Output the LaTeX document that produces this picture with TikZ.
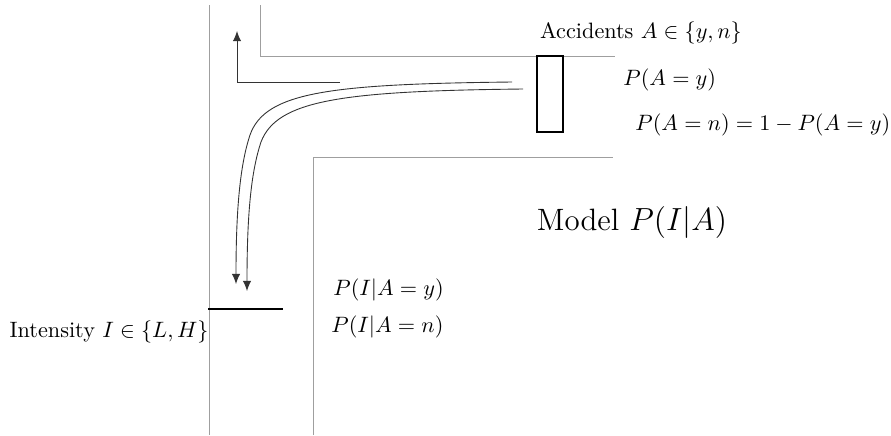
\documentclass[tikz,border=0pt]{standalone}
\usepackage{amsmath}
\usetikzlibrary{arrows.meta}

\begin{document}
\begin{tikzpicture}[x=0.45pt, y=-0.45pt]
\tikzset{
    road/.style={gray!75, line width=0.45pt},
    sensor/.style={black, line width=1.3pt},
    flow/.style={black!80, line width=0.4pt, -{Latex[length=4.6pt,width=3.8pt]}},
    labeltext/.style={inner sep=0pt}
}
\useasboundingbox (0,0) rectangle (891,435);

% roads
\draw[road] (209,5) -- (209,435);
\draw[road] (260,5) -- (260,56) -- (615,56);
\draw[road] (313,435) -- (313,157) -- (613,157);

% sensors
\draw[sensor] (537,56) rectangle (563,132);
\draw[sensor] (208,309) -- (283,309);

% traffic
\coordinate (turnstart) at (340,82);
\coordinate (turncorner) at (237,82);
\coordinate (turnend) at (237,31);
\draw[flow] (turnstart) -- (turncorner) -- (turnend);

\coordinate (outerstart) at (512,82);
\coordinate (outerend) at (236,284);
\draw[flow] (outerstart) .. controls (330,84) and (265,92) .. (250,135)
    .. controls (240,165) and (236,210) .. (outerend);
\coordinate (innerstart) at (523,89);
\coordinate (innerend) at (247,291);
\draw[flow] (innerstart) .. controls (342,91) and (277,100) .. (261,142)
    .. controls (251,172) and (247,215) .. (innerend);

% labels
\node[labeltext] (acc) at (641,33) {Accidents $A \in \{y,n\}$};
\node[labeltext, anchor=west] (pay) at (623,80) {$P(A=y)$};
\node[labeltext, anchor=west] (pan) at (635,125) {$P(A=n) = 1 - P(A=y)$};
\node[labeltext, font=\fontsize{13.9pt}{16pt}\selectfont] (model) at (632,222) {Model $P(I|A)$};
\node[labeltext, anchor=west] (piy) at (333,290) {$P(I|A=y)$};
\node[labeltext, anchor=west] (pin) at (331,327) {$P(I|A=n)$};
\node[labeltext, anchor=east] (int) at (209,332) {Intensity $I \in \{L,H\}$};

\end{tikzpicture}
\end{document}
